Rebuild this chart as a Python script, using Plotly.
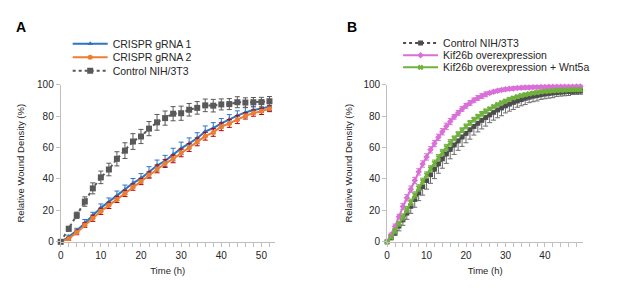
import plotly.graph_objects as go

W, H = 617, 290

# ---------------- Panel A data ----------------
time_a = list(range(0, 53, 2))
ctrl_a = [0, 8.3, 16.9, 25.6, 34, 41, 46, 52.8, 58, 63.8, 67, 72, 76, 78.7, 81.5, 81.8,
          84, 85.2, 86.8, 86.6, 87.4, 87.6, 88.8, 88.6, 88.8, 88.9, 89.4]
ctrl_a_err = [0, 1.5, 2, 3, 3.5, 4, 4, 4.5, 5, 5, 4.5, 4.5, 5, 4.5, 4.5, 4.5, 4, 4, 4, 4,
              3.5, 3.5, 3.5, 3, 3, 3, 3]
g1_a = [0, 3.2, 7.1, 12.2, 16.8, 21.6, 25.4, 29.3, 33.1, 37.3, 40.4, 44.3, 48.5, 51.5,
        55.5, 59.4, 62.6, 65.9, 70.2, 72.3, 75.4, 77.9, 80.3, 82.3, 83.8, 84.8, 86]
g1_a_err = [0, 1, 1.5, 2, 2, 2.5, 2.5, 3, 3, 3, 3, 3.5, 3.5, 3.5, 4, 4, 3.5, 3.5, 3.5,
            3.5, 3, 3, 3, 3, 2.5, 2.5, 2.5]
g2_a = [0, 2, 6, 10.6, 15, 19.4, 23.2, 27, 30.8, 34.8, 38.4, 42.5, 46.4, 49.8, 52.8,
        56.6, 60, 63.6, 67.2, 69.6, 73.2, 75.3, 77.7, 80.1, 81.9, 83, 84.8]
g2_a_err = [0, 1, 1.5, 1.5, 2, 2, 2, 2, 2, 2, 2, 2, 2.5, 2.5, 2.5, 2.5, 2.5, 2.5, 2.5,
            2.5, 2.5, 2.5, 2.5, 2, 2, 2, 2]

# ---------------- Panel B data ----------------
time_b = list(range(0, 50))
ctrl_b = [0, 2.5, 6, 10, 14, 18.3, 22.6, 27, 31.2, 35.2, 39, 42.7, 46.2, 49.6, 52.8, 55.9,
          58.8, 61.6, 64.2, 66.7, 69, 71.3, 73.4, 75.4, 77.3, 79.1, 80.8, 82.4, 83.9, 85.2,
          86.5, 87.6, 88.7, 89.6, 90.5, 91.3, 92, 92.6, 93.1, 93.6, 94, 94.4, 94.7, 95,
          95.2, 95.4, 95.6, 95.7, 95.8, 95.9]
ctrl_b_err = [0, 1, 2, 3, 3.5, 4, 4.5, 5, 5, 5.5, 5.5, 5.5, 6, 6, 6, 6, 6, 6, 6, 6, 6, 6,
              5.5, 5.5, 5.5, 5.5, 5, 5, 5, 5, 4.5, 4.5, 4.5, 4, 4, 4, 3.5, 3.5, 3.5, 3,
              3, 3, 3, 2.5, 2.5, 2.5, 2.5, 2, 2, 2]
kif_b = [0, 4.5, 9.8, 16, 22.5, 28, 33.5, 39, 44.5, 49.5, 54, 58.5, 62.5, 66.5, 70, 73.5,
         76.5, 79.5, 82, 84.5, 86.5, 88.3, 90, 91.5, 92.7, 93.8, 94.7, 95.5, 96.1, 96.6,
         97, 97.3, 97.6, 97.8, 98, 98.1, 98.2, 98.3, 98.4, 98.5, 98.5, 98.6, 98.6, 98.6,
         98.7, 98.7, 98.7, 98.7, 98.8, 98.8]
kif_b_err = [0, 1, 1.5, 1.5, 2, 2, 2, 2, 2, 2, 2, 2, 2, 2, 2, 2, 2, 1.5, 1.5, 1.5, 1.5,
             1.5, 1.5, 1.5, 1.5, 1.5, 1, 1, 1, 1, 1, 1, 1, 1, 1, 1, 1, 1, 1, 1, 1, 1, 1,
             1, 1, 1, 1, 1, 1, 1]
wnt_b = [0, 3, 7, 11.5, 15.8, 20.5, 25.2, 29.8, 34.3, 38.5, 42.5, 46.4, 50, 53.5, 56.8,
         60, 63, 65.8, 68.5, 71, 73.4, 75.6, 77.7, 79.6, 81.4, 83, 84.6, 86, 87.3, 88.5,
         89.6, 90.6, 91.5, 92.3, 93, 93.6, 94.1, 94.6, 95, 95.4, 95.7, 95.9, 96.1, 96.3,
         96.4, 96.5, 96.6, 96.7, 96.8, 96.8]
wnt_b_err = [0, 1, 1.5, 1.5, 2, 2, 2, 2, 2, 2, 2, 2, 2, 2, 2, 2, 2, 1.5, 1.5, 1.5, 1.5,
             1.5, 1.5, 1.5, 1.5, 1.5, 1, 1, 1, 1, 1, 1, 1, 1, 1, 1, 1, 1, 1, 1, 1, 1, 1,
             1, 1, 1, 1, 1, 1, 1]

ticks_a = list(range(0, 54, 2))
ticklab_a = [str(v) if v % 10 == 0 else "" for v in ticks_a]
ticks_b = list(range(0, 50, 2))
ticklab_b = [str(v) if v % 10 == 0 else "" for v in ticks_b]
yticks = [0, 20, 40, 60, 80, 100]

FONT = "Arial, Liberation Sans, sans-serif"
AXC = "#bfbfbf"
TXT = "#262626"

fig = go.Figure()


def add(x, y, err, name, color, dash, symbol, msize, ecolor, xa, ya, leg, err_minus=None, width=2):
    ey = dict(type="data", array=err, color=ecolor, thickness=1, width=2.5, visible=True)
    if err_minus is not None:
        ey = dict(type="data", symmetric=False, array=[0] * len(err_minus), arrayminus=err_minus,
                  color=ecolor, thickness=1, width=2.5, visible=True)
    fig.add_trace(go.Scatter(
        x=x, y=y, name=name, mode="lines+markers",
        line=dict(color=color, width=width, dash=dash),
        marker=dict(symbol=symbol, size=msize, color=color),
        error_y=ey, xaxis=xa, yaxis=ya, legend=leg, cliponaxis=False,
    ))


add(time_a, g1_a, g1_a_err, "CRISPR gRNA 1", "#2e75c0", "solid", "triangle-up", 5, "#2e75c0", "x", "y", "legend")
add(time_a, g2_a, g2_a_err, "CRISPR gRNA 2", "#ed7d31", "solid", "circle", 5, "#c00000", "x", "y", "legend2")
add(time_a, ctrl_a, ctrl_a_err, "Control NIH/3T3", "#595959", "dot", "square", 6, "#595959", "x", "y", "legend3")

add(time_b, ctrl_b, None, "Control NIH/3T3", "#4d4d4d", "dot", "square", 5, "#6b6b6b", "x2", "y2", "legend4", err_minus=ctrl_b_err)
add(time_b, kif_b, kif_b_err, "Kif26b overexpression", "#da6fd8", "solid", "diamond", 5, "#da6fd8", "x2", "y2", "legend5")
add(time_b, wnt_b, wnt_b_err, "Kif26b overexpression + Wnt5a", "#6fb13c", "solid", "x", 5, "#6fb13c", "x2", "y2", "legend6")


def px_x(p):
    return p / W


def px_y(p):
    return 1 - p / H


ydom = [px_y(246), px_y(82)]

common_x = dict(showline=True, linecolor=AXC, linewidth=1, ticks="outside", ticklen=4,
                tickcolor=AXC, showgrid=False, zeroline=False, tickmode="array",
                tickfont=dict(family=FONT, size=10, color=TXT))
common_y = dict(showline=True, linecolor=AXC, linewidth=1, ticks="outside", ticklen=4,
                tickcolor=AXC, showgrid=False, zeroline=False, range=[0, 100],
                tickmode="array", tickvals=yticks, ticktext=[str(v) for v in yticks],
                tickfont=dict(family=FONT, size=10, color=TXT))

leg_common = dict(xanchor="left", yanchor="middle", bgcolor="rgba(0,0,0,0)", borderwidth=0,
                  itemwidth=35, font=dict(family=FONT, size=10.5, color=TXT))

TT = dict(size=9.5, family=FONT, color=TXT)

layout = dict(
    width=W, height=H, margin=dict(l=0, r=0, t=0, b=0),
    paper_bgcolor="white", plot_bgcolor="white",
    font=dict(family=FONT, color=TXT),
    xaxis=dict(domain=[px_x(58), px_x(273)], range=[0, 53.3], anchor="y",
               tickvals=ticks_a, ticktext=ticklab_a,
               title=dict(text="Time (h)", font=TT, standoff=7),
               **common_x),
    yaxis=dict(domain=ydom, anchor="x",
               title=dict(text="Relative Wound Density (%)", font=TT, standoff=10),
               **common_y),
    xaxis2=dict(domain=[px_x(386), px_x(583)], range=[0, 49.7], anchor="y2",
                tickvals=ticks_b, ticktext=ticklab_b,
                title=dict(text="Time (h)", font=TT, standoff=7),
                **common_x),
    yaxis2=dict(domain=ydom, anchor="x2",
                title=dict(text="Relative Wound Density (%)", font=TT, standoff=9),
                **common_y),
    showlegend=True,
    legend=dict(x=px_x(65), y=px_y(39.5), **leg_common),
    legend2=dict(x=px_x(65), y=px_y(53.5), **leg_common),
    legend3=dict(x=px_x(65), y=px_y(67.5), **leg_common),
    legend4=dict(x=px_x(397), y=px_y(38.5), **leg_common),
    legend5=dict(x=px_x(397), y=px_y(51.5), **leg_common),
    legend6=dict(x=px_x(397), y=px_y(64), **leg_common),
    annotations=[
        dict(text="<b>A</b>", x=px_x(11), y=px_y(22), xref="paper", yref="paper",
             xanchor="left", yanchor="middle", showarrow=False,
             font=dict(family=FONT, size=14, color="black")),
        dict(text="<b>B</b>", x=px_x(344), y=px_y(22), xref="paper", yref="paper",
             xanchor="left", yanchor="middle", showarrow=False,
             font=dict(family=FONT, size=14, color="black")),
    ],
)
fig.update_layout(**layout)
fig.write_html("out.html", config={"displayModeBar": False},
               post_script="document.body.style.margin='0';")
